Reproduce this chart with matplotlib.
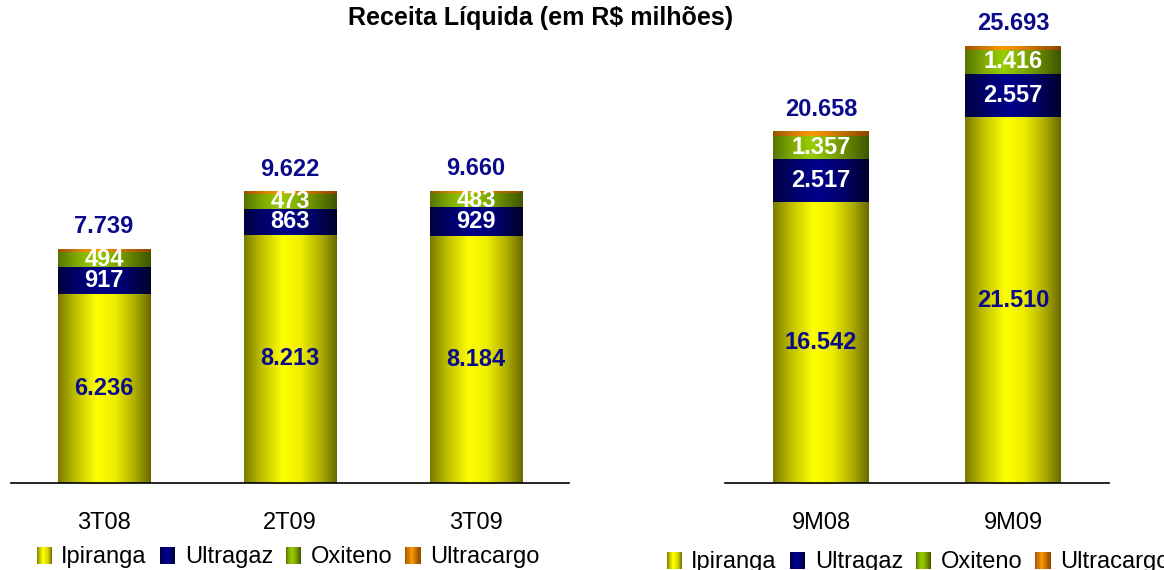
import numpy as np
import matplotlib
matplotlib.use("Agg")
import matplotlib.pyplot as plt
from matplotlib.colors import LinearSegmentedColormap
from matplotlib.patches import Patch, Rectangle
from matplotlib.legend_handler import HandlerBase

plt.rcParams['font.family'] = ['Liberation Sans', 'DejaVu Sans']

# ---- data ----
quarters = ["3T08", "2T09", "3T09"]
q_ipiranga = [6236, 8213, 8184]
q_ultragaz = [917, 863, 929]
q_oxiteno = [494, 473, 483]
q_ultracargo = [92, 73, 64]
q_total = [7739, 9622, 9660]

periods = ["9M08", "9M09"]
p_ipiranga = [16542, 21510]
p_ultragaz = [2517, 2557]
p_oxiteno = [1357, 1416]
p_ultracargo = [242, 210]
p_total = [20658, 25693]

series_names = ["Ipiranga", "Ultragaz", "Oxiteno", "Ultracargo"]
title = "Receita Líquida (em R$ milhões)"

def fmt(v):
    return f"{v:,}".replace(",", ".")

cmaps = {
    "Ipiranga": LinearSegmentedColormap.from_list(
        "ip", [(0, "#7A7A00"), (0.18, "#BDBD00"), (0.42, "#FFFF00"),
               (0.62, "#EDED00"), (0.82, "#B0B000"), (1, "#6A6A00")]),
    "Ultragaz": LinearSegmentedColormap.from_list(
        "ug", [(0, "#000040"), (0.2, "#000068"), (0.45, "#00008C"),
               (0.7, "#000070"), (1, "#00002C")]),
    "Oxiteno": LinearSegmentedColormap.from_list(
        "ox", [(0, "#557500"), (0.2, "#7FAA00"), (0.4, "#99CC00"),
               (0.65, "#7AA300"), (1, "#3F5500")]),
    "Ultracargo": LinearSegmentedColormap.from_list(
        "uc", [(0, "#9A5200"), (0.2, "#D07A00"), (0.4, "#FF9900"),
               (0.65, "#D07800"), (1, "#8A4600")]),
}
mid_colors = {"Ipiranga": "#FFFF00", "Ultragaz": "#000080",
              "Oxiteno": "#99CC00", "Ultracargo": "#FF9900"}
navy = "#0A0A8A"
grad = np.linspace(0, 1, 256).reshape(1, -1)

W, H = 1164, 570
fig = plt.figure(figsize=(W / 100, H / 100), dpi=100)

def px_axes(x0, x1, ybot, ytop):
    return fig.add_axes([x0 / W, 1 - ybot / H, (x1 - x0) / W, (ybot - ytop) / H])

base_y = 483
top_y = 40
axL = px_axes(11, 569, base_y, top_y)
axR = px_axes(725, 1109, base_y, top_y)
ylimL = (base_y - top_y) / 0.03024
ylimR = (base_y - top_y) / 0.01700


class GradientHandler(HandlerBase):
    def __init__(self, cmap):
        super().__init__()
        self.cmap = cmap

    def create_artists(self, legend, orig_handle, xdescent, ydescent,
                       width, height, fontsize, trans):
        n = 14
        arts = []
        for i in range(n):
            r = Rectangle((-xdescent + i * width / n, -ydescent - 1), width / n * 1.05,
                          height + 1, facecolor=self.cmap((i + 0.5) / n),
                          edgecolor="none", transform=trans)
            arts.append(r)
        return arts


def draw(ax, cats, ip, ug, ox, uc, tot, ylim):
    x = np.arange(len(cats))
    stacks = [ip, ug, ox, uc]
    bottom = np.zeros(len(cats))
    containers = []
    for name, vals in zip(series_names, stacks):
        bc = ax.bar(x, vals, 0.5, bottom=bottom, color=mid_colors[name],
                    edgecolor="none", zorder=2)
        for rect in bc:
            x0, y0 = rect.get_x(), rect.get_y()
            w, h = rect.get_width(), rect.get_height()
            ax.imshow(grad, extent=[x0, x0 + w, y0, y0 + h], aspect="auto",
                      cmap=cmaps[name], zorder=2.5, interpolation="bilinear")
        containers.append((name, bc, bottom.copy(), np.array(vals)))
        bottom = bottom + np.array(vals)

    for name, bc, bot, vals in containers:
        if name == "Ultracargo":
            continue
        color = navy if name == "Ipiranga" else "white"
        for xi, b, v in zip(x, bot, vals):
            ax.text(xi, b + v / 2, fmt(int(v)), ha="center", va="center",
                    fontsize=17, fontweight="bold", color=color, zorder=4)
    for xi, t in zip(x, tot):
        ax.annotate(fmt(t), (xi, t), xytext=(0, 16), textcoords="offset points",
                    ha="center", va="center", fontsize=17, fontweight="bold",
                    color=navy, annotation_clip=False, zorder=4)

    ax.set_xlim(-0.5, len(cats) - 0.5)
    ax.set_ylim(0, ylim)
    ax.set_xticks(x)
    ax.set_xticklabels(cats, fontsize=17)
    ax.tick_params(axis="x", length=0, pad=21)
    ax.set_yticks([])
    for s in ["top", "right", "left"]:
        ax.spines[s].set_visible(False)
    ax.spines["bottom"].set_linewidth(1.2)
    ax.spines["bottom"].set_zorder(5)

    handles = [Patch(label=n) for n in series_names]
    hmap = {h: GradientHandler(cmaps[n]) for h, n in zip(handles, series_names)}
    return handles, hmap


hL, mL = draw(axL, quarters, q_ipiranga, q_ultragaz, q_oxiteno, q_ultracargo,
              q_total, ylimL)
hR, mR = draw(axR, periods, p_ipiranga, p_ultragaz, p_oxiteno, p_ultracargo,
              p_total, ylimR)

leg_kw = dict(ncol=4, loc="center", frameon=False, fontsize=17,
              handlelength=0.65, handleheight=0.6, handletextpad=0.4,
              columnspacing=0.55, borderpad=0, borderaxespad=0)
fig.legend(handles=hL, handler_map=mL, bbox_to_anchor=(288 / W, 1 - 557 / H), **leg_kw)
fig.legend(handles=hR, handler_map=mR, bbox_to_anchor=(918 / W, 1 - 562 / H), **leg_kw)

fig.text(541 / W, 1 - 18 / H, title, ha="center", va="center",
         fontsize=18, fontweight="bold")

fig.savefig("out.png", dpi=100)
